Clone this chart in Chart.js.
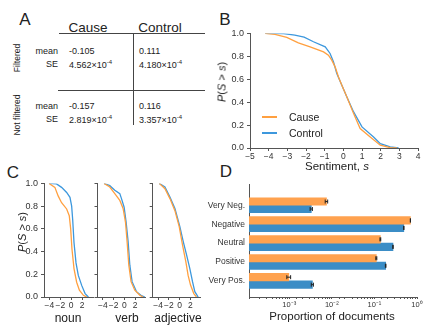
<!DOCTYPE html>
<html>
<head>
<meta charset="utf-8">
<script src="https://cdn.jsdelivr.net/npm/chart.js@4/dist/chart.umd.min.js"></script>
<style>
body { margin: 0; background: #fff; width: 439px; height: 330px; position: relative; overflow: hidden;
       font-family: "Liberation Sans", Arial, sans-serif; color: #222; }
.t { position: absolute; white-space: nowrap; line-height: 1; }
.c { transform: translate(-50%, -50%); }
.l { transform: translateY(-50%); }
.r { transform: translate(-100%, -50%); }
.rot { transform: translate(-50%, -50%) rotate(-90deg); }
.hl { position: absolute; height: 0; border-top: 1px solid #444; }
.vl { position: absolute; width: 0; border-left: 1px solid #444; }
.key { position: absolute; height: 1.5px; width: 15px; }
canvas { position: absolute; }
sup { font-size: 6px; vertical-align: 4px; }
.panel { font-size: 17px; }
.val { font-size: 9px; }
</style>
</head>
<body>

<!-- panel letters -->
<div class="t c panel" style="left:25px;top:19px">A</div>
<div class="t c panel" style="left:225px;top:19px">B</div>
<div class="t c panel" style="left:13px;top:172px">C</div>
<div class="t c panel" style="left:226px;top:171px">D</div>

<!-- panel A: summary table -->
<div class="t c" style="left:88px;top:28px;font-size:13.5px">Cause</div>
<div class="t c" style="left:160px;top:28px;font-size:13.5px">Control</div>
<div class="hl" style="left:59px;top:33px;width:146px"></div>
<div class="hl" style="left:58px;top:90px;width:147px"></div>
<div class="vl" style="left:133px;top:33px;height:92px"></div>
<div class="t rot" style="left:17px;top:58px;font-size:8.5px">Filtered</div>
<div class="t rot" style="left:17px;top:115px;font-size:8.5px">Not filtered</div>

<div class="t r val" style="left:58px;top:51px">mean</div>
<div class="t r val" style="left:58px;top:64px">SE</div>
<div class="t l val" style="left:69px;top:51px">-0.105</div>
<div class="t l val" style="left:69px;top:64px">4.562×10<sup>-4</sup></div>
<div class="t l val" style="left:139px;top:51px">0.111</div>
<div class="t l val" style="left:139px;top:64px">4.180×10<sup>-4</sup></div>

<div class="t r val" style="left:58px;top:106px">mean</div>
<div class="t r val" style="left:58px;top:119px">SE</div>
<div class="t l val" style="left:69px;top:106px">-0.157</div>
<div class="t l val" style="left:69px;top:119px">2.819×10<sup>-4</sup></div>
<div class="t l val" style="left:139px;top:106px">0.116</div>
<div class="t l val" style="left:139px;top:119px">3.357×10<sup>-4</sup></div>

<!-- panel B -->
<canvas id="chartB" width="220" height="140" style="left:205px;top:25px"></canvas>
<div class="t rot" style="left:222px;top:82px;font-size:11px"><i>P</i>(<i>S</i> &gt; <i>s</i>)</div>
<div class="t c" style="left:337px;top:167px;font-size:11.5px">Sentiment, <i>s</i></div>
<div class="key" style="left:262px;top:116px;background:#ffa040"></div>
<div class="key" style="left:262px;top:132px;background:#3d98dd"></div>
<div class="t l" style="left:289px;top:117px;font-size:10.5px">Cause</div>
<div class="t l" style="left:289px;top:133px;font-size:10.5px">Control</div>

<!-- panel C -->
<canvas id="chartNoun" width="95" height="136" style="left:0px;top:175px"></canvas>
<canvas id="chartVerb" width="56" height="136" style="left:90px;top:175px"></canvas>
<canvas id="chartAdj" width="56" height="136" style="left:145px;top:175px"></canvas>
<div class="t rot" style="left:22px;top:232px;font-size:11px"><i>P</i>(<i>S</i> &gt; <i>s</i>)</div>
<div class="t c" style="left:68px;top:318px;font-size:12px">noun</div>
<div class="t c" style="left:127px;top:318px;font-size:12px">verb</div>
<div class="t c" style="left:178px;top:318px;font-size:12px">adjective</div>

<!-- panel D -->
<canvas id="chartD" width="220" height="135" style="left:205px;top:175px"></canvas>
<div class="t c" style="left:332px;top:317px;font-size:11.5px">Proportion of documents</div>

<script>
// ---- data ----
// panel B: complementary CDF of sentiment, [s, P(S > s)]
const causeB = [[-4.19, 1.0], [-3.66, 0.991], [-3.03, 0.965], [-2.41, 0.918], [-1.78, 0.883],
  [-1.06, 0.839], [-0.8, 0.81], [-0.62, 0.767], [-0.44, 0.708], [-0.26, 0.62], [-0.08, 0.548],
  [0.19, 0.446], [0.55, 0.30], [0.9, 0.17], [1.44, 0.096], [1.98, 0.024], [2.51, 0.003], [2.87, 0]];
const controlB = [[-4.19, 1.0], [-3.2, 0.998], [-2.6, 0.985], [-2.1, 0.968], [-1.6, 0.927],
  [-0.97, 0.883], [-0.71, 0.825], [-0.53, 0.752], [-0.35, 0.65], [-0.08, 0.548], [0.19, 0.446],
  [0.55, 0.315], [1.0, 0.184], [1.62, 0.096], [1.98, 0.038], [2.51, 0.009], [2.96, 0]];

// panel C: same by part of speech
const nounCause = [[-4.07, 1.0], [-3.0, 0.965], [-2.4, 0.89], [-1.77, 0.83], [-0.84, 0.775],
  [-0.36, 0.716], [-0.1, 0.6], [0.14, 0.42], [0.51, 0.25], [1.0, 0.13], [1.5, 0.06], [2.24, 0.015], [2.87, 0]];
const nounControl = [[-4.07, 1.0], [-2.7, 0.995], [-1.77, 0.965], [-0.84, 0.92], [-0.23, 0.877],
  [0.08, 0.8], [0.27, 0.68], [0.51, 0.48], [0.88, 0.30], [1.3, 0.19], [1.94, 0.1], [2.55, 0.03], [3.16, 0]];
const verbCause = [[-3.78, 1.0], [-2.72, 0.968], [-1.79, 0.91], [-0.86, 0.85], [-0.25, 0.78],
  [0.19, 0.66], [0.49, 0.49], [0.81, 0.28], [1.23, 0.135], [1.92, 0.06], [2.85, 0.015], [3.47, 0]];
const verbControl = [[-3.78, 1.0], [-2.72, 0.98], [-1.79, 0.94], [-0.86, 0.91], [-0.55, 0.866],
  [-0.06, 0.79], [0.31, 0.66], [0.68, 0.49], [1.0, 0.28], [1.42, 0.135], [2.24, 0.047], [3.16, 0.012], [3.78, 0]];
const adjCause = [[-3.78, 1.0], [-2.72, 0.953], [-1.79, 0.866], [-0.86, 0.76], [-0.06, 0.62],
  [0.56, 0.456], [1.18, 0.31], [1.6, 0.19], [2.05, 0.105], [2.66, 0.03], [3.16, 0]];
const adjControl = [[-3.78, 1.0], [-2.72, 0.968], [-1.79, 0.88], [-0.86, 0.78], [0.06, 0.62],
  [0.68, 0.49], [1.31, 0.37], [1.92, 0.25], [2.42, 0.135], [2.85, 0.047], [3.47, 0]];

// panel D: proportion of documents per sentiment class
const sentimentLabels = ['Very Neg.', 'Negative', 'Neutral', 'Positive', 'Very Pos.'];
const causeProp = [0.0075, 0.70, 0.138, 0.111, 0.00098];
const controlProp = [0.0033, 0.49, 0.273, 0.184, 0.0035];
const causeErr = [0.0005, 0.004, 0.003, 0.003, 0.0001];
const controlErr = [0.0002, 0.004, 0.003, 0.003, 0.0002];

const ticksB = [-5, -4, -3, -2, -1, 0, 1, 2, 3, 4];
const ticksC = [-4, -2, 0, 2];
const ticksP = [0, 0.2, 0.4, 0.6, 0.8, 1.0];

// ---- style ----
const orange = '#ffa040';
const blue = '#3d98dd';
const axisColor = '#555';
Chart.defaults.font.family = '"Liberation Sans", Arial, sans-serif';
Chart.defaults.color = '#333';

const minus = v => (v < 0 ? '\u2212' + Math.abs(v) : String(v));
const toXY = arr => arr.map(p => ({ x: p[0], y: p[1] }));

function line(label, data, color) {
  return { label: label, data: toXY(data), borderColor: color, borderWidth: 1.3,
           pointRadius: 0, tension: 0, fill: false };
}

function axisGrid(len) {
  return { drawOnChartArea: false, drawTicks: len > 0, tickLength: len, color: axisColor, offset: false };
}

// complementary CDF chart (used for B and the three C panels)
function cdfChart(id, cause, control, o) {
  return new Chart(document.getElementById(id), {
    type: 'line',
    data: { datasets: [line('Cause', cause, orange), line('Control', control, blue)] },
    options: {
      responsive: false, animation: false,
      layout: { padding: { top: o.top, right: o.right, left: 0, bottom: 0 } },
      plugins: { legend: { display: false }, tooltip: { enabled: false } },
      scales: {
        x: {
          type: 'linear', min: -5, max: 4,
          afterFit: s => { s.height = o.xh; },
          afterBuildTicks: s => { s.ticks = o.xticks.map(v => ({ value: v })); },
          ticks: { callback: minus, font: { size: o.fs }, padding: 1, maxRotation: 0, autoSkip: false },
          grid: axisGrid(3), border: { color: axisColor }
        },
        y: {
          type: 'linear', min: 0, max: 1,
          afterFit: s => { s.width = o.yw; },
          afterBuildTicks: s => { s.ticks = ticksP.map(v => ({ value: v })); },
          ticks: { callback: v => (o.ylabels ? v.toFixed(1) : ''), font: { size: 9 }, padding: 3, autoSkip: false },
          grid: axisGrid(3), border: { color: axisColor }
        }
      }
    }
  });
}

cdfChart('chartB', causeB, controlB, { top: 8, right: 7, xh: 17, yw: 45, fs: 8.5, xticks: ticksB, ylabels: true });
cdfChart('chartNoun', nounCause, nounControl, { top: 8, right: 2, xh: 14, yw: 44, fs: 8.5, xticks: ticksC, ylabels: true });
cdfChart('chartVerb', verbCause, verbControl, { top: 8, right: 0, xh: 14, yw: 7.5, fs: 8.5, xticks: ticksC, ylabels: false });
cdfChart('chartAdj', adjCause, adjControl, { top: 8, right: 0, xh: 14, yw: 7.7, fs: 8.5, xticks: ticksC, ylabels: false });

// small error bars at the end of each horizontal bar
const errorBars = {
  id: 'errorBars',
  afterDatasetsDraw(chart) {
    const ctx = chart.ctx;
    const xs = chart.scales.x;
    const errs = [causeErr, controlErr];
    chart.data.datasets.forEach((ds, i) => {
      chart.getDatasetMeta(i).data.forEach((bar, j) => {
        const v = ds.data[j].x, e = errs[i][j];
        const x0 = xs.getPixelForValue(v - e), x1 = xs.getPixelForValue(v + e), y = bar.y;
        ctx.save();
        ctx.strokeStyle = '#222';
        ctx.lineWidth = 1;
        ctx.beginPath();
        ctx.moveTo(x0, y); ctx.lineTo(x1, y);
        ctx.moveTo(x0, y - 2); ctx.lineTo(x0, y + 2);
        ctx.moveTo(x1, y - 2); ctx.lineTo(x1, y + 2);
        ctx.stroke();
        ctx.restore();
      });
    });
  }
};

const supers = { '-3': '10\u207B\u00B3', '-2': '10\u207B\u00B2', '-1': '10\u207B\u00B9', '0': '10\u2070' };

new Chart(document.getElementById('chartD'), {
  type: 'bar',
  data: {
    datasets: [
      { label: 'Cause', data: causeProp.map((v, i) => ({ x: v, y: i })), backgroundColor: '#ffa24f', barThickness: 7.5 },
      { label: 'Control', data: controlProp.map((v, i) => ({ x: v, y: i })), backgroundColor: '#3b8dc6', barThickness: 7.5 }
    ]
  },
  options: {
    indexAxis: 'y',
    responsive: false, animation: false,
    layout: { padding: { top: 8, right: 8, left: 0, bottom: 0 } },
    plugins: { legend: { display: false }, tooltip: { enabled: false } },
    scales: {
      x: {
        type: 'logarithmic', min: 1.138e-4, max: 1, offset: false,
        afterFit: s => { s.height = 13; },
        ticks: {
          autoSkip: false, maxRotation: 0, padding: 1, font: { size: 7.5 },
          callback: v => {
            const e = Math.log10(v);
            return Math.abs(e - Math.round(e)) < 1e-6 && supers[Math.round(e)] ? supers[Math.round(e)] : '';
          }
        },
        grid: axisGrid(2), border: { color: axisColor }
      },
      y: {
        type: 'linear', reverse: true, min: -1.12, max: 4.85, offset: false,
        afterFit: s => { s.width = 44; },
        afterBuildTicks: s => { s.ticks = sentimentLabels.map((_, i) => ({ value: i })); },
        ticks: { callback: v => sentimentLabels[v] || '', font: { size: 8.5 }, padding: 4, autoSkip: false },
        grid: axisGrid(0), border: { color: axisColor }
      }
    }
  },
  plugins: [errorBars]
});
</script>
</body>
</html>
